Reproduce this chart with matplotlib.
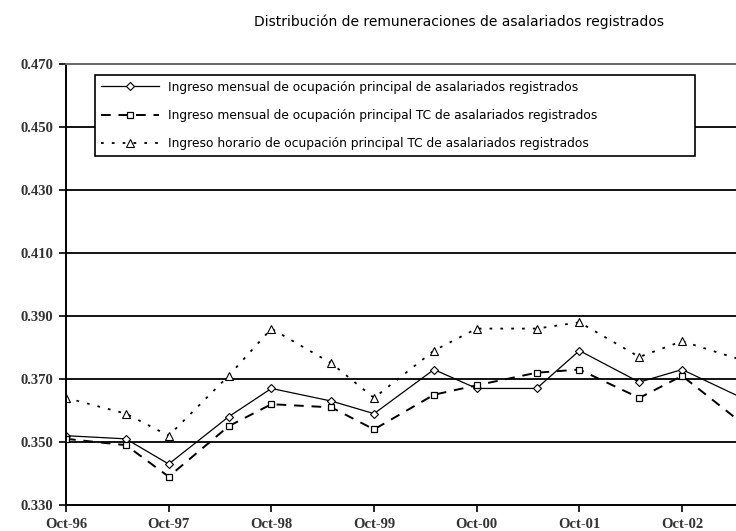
import matplotlib

matplotlib.use("Agg")
import matplotlib.pyplot as plt
from matplotlib.ticker import FormatStrFormatter

MESES = {"May": 5, "Oct": 10}

periodos = ["Oct-96", "May-97", "Oct-97", "May-98", "Oct-98", "May-99", "Oct-99",
            "May-00", "Oct-00", "May-01", "Oct-01", "May-02", "Oct-02", "May-03"]
mensual = [0.352, 0.351, 0.343, 0.358, 0.367, 0.363, 0.359,
           0.373, 0.367, 0.367, 0.379, 0.369, 0.373, 0.364]
mensual_tc = [0.351, 0.349, 0.339, 0.355, 0.362, 0.361, 0.354,
              0.365, 0.368, 0.372, 0.373, 0.364, 0.371, 0.356]
horario_tc = [0.364, 0.359, 0.352, 0.371, 0.386, 0.375, 0.364,
              0.379, 0.386, 0.386, 0.388, 0.377, 0.382, 0.376]
nombres = [
    "Ingreso mensual de ocupación principal de asalariados registrados",
    "Ingreso mensual de ocupación principal TC de asalariados registrados",
    "Ingreso horario de ocupación principal TC de asalariados registrados",
]
yticks = [0.330, 0.350, 0.370, 0.390, 0.410, 0.430, 0.450, 0.470]


def mes_indice(p):
    # months since Oct-96
    m, a = p.split("-")
    anio = int(a) + (1900 if int(a) > 50 else 2000)
    return (anio - 1996) * 12 + MESES[m] - 10


xs = [mes_indice(p) for p in periodos]
xt = [mes_indice(p) for p in periodos if p.startswith("Oct")]
xl = [p for p in periodos if p.startswith("Oct")]

fig = plt.figure(figsize=(7.36, 5.31), dpi=100)
ax = fig.add_axes([66 / 736, 26 / 531, 670 / 736, 441 / 531])

ax.plot(xs, mensual, "-", color="black", lw=0.9, marker="D", ms=4.5,
        mfc="white", mec="black", mew=0.8, label=nombres[0])
ax.plot(xs, mensual_tc, color="black", lw=1.4, ls=(0, (5, 4)), marker="s", ms=5,
        mfc="white", mec="black", mew=0.9, label=nombres[1])
ax.plot(xs, horario_tc, color="black", lw=1.3, ls=(0, (1.5, 4.5)), marker="^", ms=6,
        mfc="white", mec="black", mew=0.8, label=nombres[2])

ax.set_xlim(0, 78.3)
ax.set_ylim(0.330, 0.470)
ax.set_yticks(yticks)
ax.yaxis.set_major_formatter(FormatStrFormatter("%.3f"))
ax.set_xticks(xt)
ax.set_xticklabels(xl)
for y in yticks[1:-1]:
    ax.axhline(y, color="black", lw=1.3, zorder=1)

ax.spines["right"].set_visible(False)
ax.spines["top"].set_color("#666666")
ax.spines["top"].set_linewidth(1.4)
ax.spines["left"].set_linewidth(1.4)
ax.spines["bottom"].set_linewidth(1.4)
ax.tick_params(axis="both", direction="out", length=5, width=1.2,
               labelsize=10.5, pad=4)
for t in ax.get_yticklabels() + ax.get_xticklabels():
    t.set_fontfamily("Liberation Serif")
    t.set_fontweight("bold")
    t.set_color("#333333")

leg = ax.legend(loc="upper left", bbox_to_anchor=(0.0433, 0.0, 0.8955, 0.975),
                mode="expand", fontsize=8.8, frameon=True, fancybox=False,
                edgecolor="black", framealpha=1, borderaxespad=0,
                handlelength=4.8, handletextpad=0.7, labelspacing=1.25,
                borderpad=0.45)
leg.get_frame().set_linewidth(1.2)

fig.text(459 / 736, 1 - 22 / 531, "Distribución de remuneraciones de asalariados registrados",
         ha="center", va="center", fontsize=10)

fig.savefig("out.png", dpi=100)
